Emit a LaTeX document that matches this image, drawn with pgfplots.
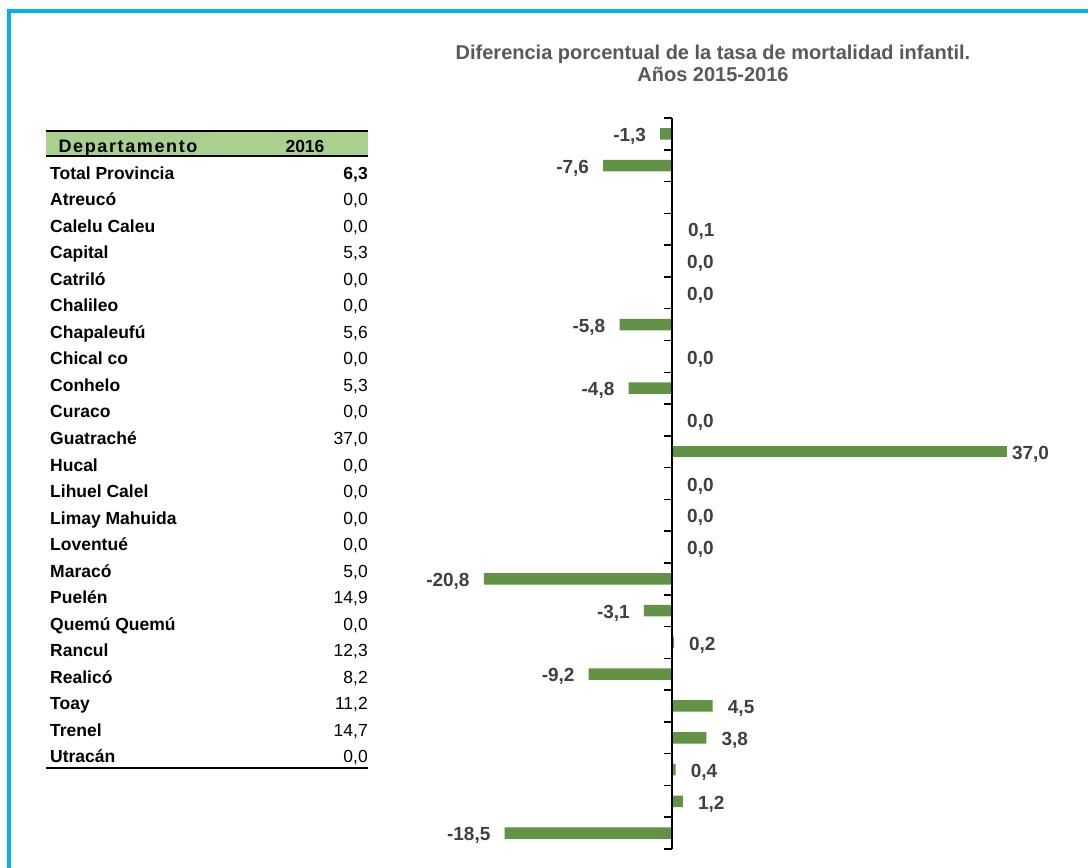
\documentclass[border=0pt]{standalone}
\usepackage{fontspec}
\setmainfont{Liberation Sans}
\usepackage{pgfplots}
\pgfplotsset{compat=1.18}

\definecolor{marco}{HTML}{00B0F0}
\definecolor{verde}{HTML}{629244}
\definecolor{cabecera}{HTML}{A9D08E}
\definecolor{titulo}{HTML}{595959}
\definecolor{etiqueta}{HTML}{404040}

\begin{document}
\begin{tikzpicture}[x=1pt,y=-1pt]
\clip (0,0) rectangle (1088,868);
\fill[white] (0,0) rectangle (1088,868);
% marco azul
\draw[marco, line width=4pt] (9,900) -- (9,11) -- (1100,11);

% titulo
\node[font=\fontsize{20}{22}\selectfont\bfseries, text=titulo, align=center]
  at (713,63) {Diferencia porcentual de la tasa de mortalidad infantil.\\Años 2015-2016};

% tabla
\fill[cabecera] (46,132) rectangle (368,155);
\draw[black, line width=2pt] (46,131) -- (368,131);
\draw[black, line width=2pt] (46,156) -- (368,156);
\draw[black, line width=2pt] (46,768) -- (368,768);
\node[font=\fontsize{18}{18}\selectfont\bfseries\addfontfeature{LetterSpace=9}, anchor=base] at (128,152) {Departamento};
\node[font=\fontsize{17.5}{18}\selectfont\bfseries, anchor=base] at (305,152) {2016};

\foreach \nom/\val [count=\i from 0] in {
  {Total Provincia}/{\bfseries 6,3},
  Atreucó/{0,0}, {Calelu Caleu}/{0,0}, Capital/{5,3}, Catriló/{0,0},
  Chalileo/{0,0}, Chapaleufú/{5,6}, {Chical co}/{0,0}, Conhelo/{5,3},
  Curaco/{0,0}, Guatraché/{37,0}, Hucal/{0,0}, {Lihuel Calel}/{0,0},
  {Limay Mahuida}/{0,0}, Loventué/{0,0}, Maracó/{5,0}, Puelén/{14,9},
  {Quemú Quemú}/{0,0}, Rancul/{12,3}, Realicó/{8,2}, Toay/{11,2},
  Trenel/{14,7}, Utracán/{0,0}} {
  \node[font=\fontsize{17.5}{18}\selectfont\bfseries, anchor=base west, inner sep=0pt]
    at (50,179+26.545*\i) {\nom};
  \node[font=\fontsize{17.5}{18}\selectfont, anchor=base east, inner sep=0pt]
    at (368,179+26.545*\i) {\val};
}

\begin{axis}[
  at={(445.75pt,-849pt)}, anchor=south west,
  scale only axis, width=588.25pt, height=731pt,
  xmin=-25, xmax=40, ymin=-0.5, ymax=22.5,
  y dir=reverse,
  hide axis, clip=false,
  xbar, bar width=11.5pt, bar shift=0pt,
  point meta=x,
  nodes near coords,
  /pgf/number format/use comma,
  /pgf/number format/fixed,
  /pgf/number format/fixed zerofill,
  /pgf/number format/precision=1,
  /pgf/number format/assume math mode=true,
  every node near coord/.append style={
    font=\fontsize{19}{20}\selectfont\bfseries, text=etiqueta, inner sep=0pt,
    yshift=-2.5pt},
]
% negativos
\addplot[fill=verde, draw=none,
  nodes near coords style={anchor=east, xshift=-14pt}]
  coordinates {(-1.3,0) (-7.6,1) (-5.8,6) (-4.8,8) (-20.8,14) (-3.1,15) (-9.2,17) (-18.5,22)};
% positivos
\addplot[fill=verde, draw=none,
  nodes near coords style={anchor=west, xshift=15pt}]
  coordinates {(0.1,3) (0,4) (0,5) (0,7) (0,9) (0,11) (0,12) (0,13) (0.2,16) (4.5,18) (3.8,19) (0.4,20) (1.2,21)};
\addplot[fill=verde, draw=none,
  nodes near coords style={anchor=west, xshift=5pt}]
  coordinates {(37,10)};
% eje vertical
\draw[black, line width=1.8pt] (axis cs:0,-0.5) -- (axis cs:0,22.5);
\pgfplotsinvokeforeach{-0.5,0.5,...,22.5}{
  \draw[black, line width=1.5pt] (axis cs:0,#1) -- ++(-8pt,0pt);
}
\end{axis}
\end{tikzpicture}
\end{document}
